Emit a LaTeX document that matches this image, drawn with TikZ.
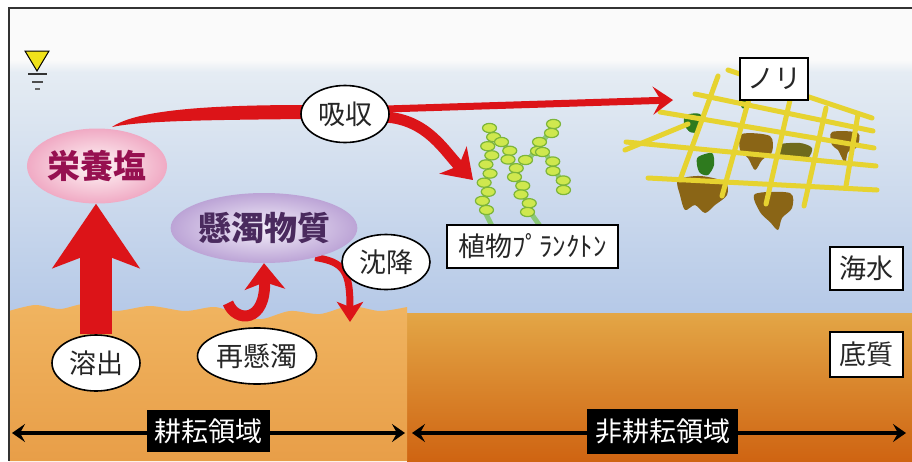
\documentclass[tikz,border=0pt]{standalone}
\usepackage{fontspec}
\setmainfont{Noto Sans CJK JP}
\usetikzlibrary{arrows.meta,shapes.geometric,calc}

\definecolor{sky}{HTML}{FAFAFA}
\definecolor{seatop}{HTML}{E5ECF3}
\definecolor{seabot}{HTML}{B4C8E7}
\definecolor{tillA}{HTML}{F0B460}
\definecolor{tillB}{HTML}{E89E48}
\definecolor{mudA}{HTML}{E3A646}
\definecolor{mudM}{HTML}{DA842A}
\definecolor{mudB}{HTML}{CF6412}
\definecolor{flowred}{HTML}{DC1418}
\definecolor{netyel}{HTML}{E6D330}
\definecolor{noriB}{HTML}{8A6516}
\definecolor{noriO}{HTML}{6F6A1C}
\definecolor{noriG}{HTML}{2E7A1E}
\definecolor{beadfill}{HTML}{CFE84E}
\definecolor{beadedge}{HTML}{7DB53A}
\definecolor{stalkgreen}{HTML}{8CC878}
\definecolor{nutink}{HTML}{961050}
\definecolor{ssink}{HTML}{4A2A5E}
\definecolor{marker}{HTML}{F0E21A}

\pgfdeclarelayer{back}
\pgfdeclarelayer{flow}
\pgfsetlayers{back,flow,main}

\tikzset{
  labeloval/.style={ellipse, draw=black, line width=1.6pt, fill=white, inner sep=0pt,
    text=black!85, font=\fontsize{27}{27}\selectfont},
  panel/.style={rectangle, draw=black, line width=2.6pt, fill=white, inner sep=0pt,
    text=black!85, font=\fontsize{27}{27}\selectfont},
  zone/.style={rectangle, fill=black, text=white, inner sep=0pt,
    font=\fontsize{27}{27}\selectfont},
  pool/.style={ellipse, inner sep=0pt, font=\bfseries\fontsize{33}{33}\selectfont},
  span/.style={line width=4pt, black,
    {Stealth[length=13pt,width=18pt,inset=5pt]}-{Stealth[length=13pt,width=18pt,inset=5pt]}},
  netline/.style={netyel, line width=5pt, line cap=round},
  bead/.style={fill=beadfill, draw=beadedge, line width=1.2pt},
  stalk/.style={stalkgreen, line width=5pt, line cap=round},
}

% a chain of beads between two named points
\newcommand\beadchain[3]{%
  \draw[stalk] (#1) -- (#2);
  \foreach \i in {0,...,#3}{
    \pgfmathsetmacro\tt{\i/#3}
    \pgfmathsetmacro\dx{mod(\i,2)==0 ? -2.5 : 2.5}
    \filldraw[bead] ($(#1)!\tt!(#2) + (\dx,0)$) ellipse [x radius=7, y radius=4.6];
  }}

\begin{document}
\begin{tikzpicture}[x=1pt,y=-1pt]
\useasboundingbox (0,0) rectangle (912,461);

% ---------- nodes ----------
\node[pool, minimum width=126pt, minimum height=75pt, inner color=white!60!pink!30, outer color={rgb,255:red,240;green,170;blue,196}, text=nutink] (nut) at (97,166) {栄養塩};
\node[pool, minimum width=165pt, minimum height=70pt, inner color={rgb,255:red,244;green,240;blue,250}, outer color={rgb,255:red,188;green,164;blue,214}, text=ssink] (ss) at (264,228) {懸濁物質};

\node[labeloval, minimum width=88pt, minimum height=57pt] (kyu) at (345,114) {吸収};
\node[labeloval, minimum width=88pt, minimum height=56pt] (yo) at (96,363) {溶出};
\node[labeloval, minimum width=119pt, minimum height=56pt] (resus) at (257,356) {再懸濁};
\node[labeloval, minimum width=88pt, minimum height=55pt] (sed) at (386,262) {沈降};

\node[panel, minimum width=171pt, minimum height=43pt] (plk) at (532.5,246.5) {植物ﾌﾟﾗﾝｸﾄﾝ};
\node[panel, minimum width=68pt, minimum height=42pt] (nori) at (774,79) {ノリ};
\node[panel, minimum width=73pt, minimum height=43pt] (sea) at (866.5,268.5) {海水};
\node[panel, minimum width=73pt, minimum height=45pt] (bed) at (866.5,354.5) {底質};

\node[zone, minimum width=123pt, minimum height=42pt] (tz) at (208.5,431) {耕耘領域};
\node[zone, minimum width=151pt, minimum height=45pt] (nz) at (662.5,431) {非耕耘領域};

% ---------- scenery ----------
\begin{pgfonlayer}{back}
  \fill[white] (0,0) rectangle (912,461);
  \fill[sky] (9,8) rectangle (912,66);
  \shade[top color=sky, bottom color=seatop] (9,60) rectangle (912,72);
  \shade[top color=seatop, bottom color=seabot] (9,72) rectangle (912,320);

  % untilled bed
  \shade[top color=mudA, middle color=mudM, bottom color=mudB] (407,313) rectangle (912,461);
  % tilled bed with its ragged surface
  \shade[top color=tillA, bottom color=tillB] (9,461) -- (9,311)
    -- plot[smooth] coordinates {(9,311) (35,305) (60,309) (85,304) (115,311) (150,306) (185,311)
      (215,307) (240,315) (262,319) (290,311) (320,314) (350,306) (380,311) (407,307)}
    -- (407,461) -- cycle;

  % frame
  \draw[line width=2pt, black!80] (9,461) -- (9,8) -- (912,8);

  % water level mark
  \filldraw[fill=marker, draw=black, line width=1pt] (25,51) -- (49,51) -- (37,71) -- cycle;
  \draw[line width=1.6pt, black!80] (28,74) -- (47,74);
  \draw[line width=1.6pt, black!70] (32,82) -- (43,82);
  \draw[line width=1.6pt, black!60] (35,89) -- (40,89);

  % laver on its net
  \fill[noriB] plot[smooth cycle] coordinates {(678,180) (700,176) (725,182) (727,195) (715,205) (705,213) (695,205) (685,210) (680,195)};
  \fill[noriB] plot[smooth cycle] coordinates {(755,194) (790,193) (792,208) (782,218) (778,230) (770,222) (760,212)};
  \fill[noriB] plot[smooth cycle] coordinates {(742,134) (770,136) (772,152) (762,160) (755,170) (748,158) (740,150)};
  \fill[noriB] plot[smooth cycle] coordinates {(832,132) (858,133) (857,147) (848,152) (845,163) (838,150) (832,145)};
  \fill[noriO] plot[smooth cycle] coordinates {(778,145) (800,143) (812,148) (808,158) (795,160) (782,158)};
  \fill[noriG] plot[smooth cycle] coordinates {(686,115) (700,114) (702,125) (698,132) (690,132) (684,124)};
  \fill[noriG] plot[smooth cycle] coordinates {(698,157) (712,153) (714,165) (708,175) (700,173) (697,165)};
  \fill[noriG] plot[smooth cycle] coordinates {(740,97) (750,97) (749,106) (742,108)};

  \draw[netline] (728,70) -- (872,118);
  \draw[netline] (695,94) -- (873,131);
  \draw[netline] (660,112) -- (874,148);
  \draw[netline] (626,142) -- (876,166);
  \draw[netline] (648,178) -- (877,190);
  \draw[netline] (625,150) -- (688,124);
  \draw[netline] (718,76) -- (680,180);
  \draw[netline] (752,88) -- (722,196);
  \draw[netline] (790,100) -- (766,204);
  \draw[netline] (826,108) -- (804,206);
  \draw[netline] (858,114) -- (846,186);

  % phytoplankton chains
  \coordinate (c1a) at (492,128); \coordinate (c1b) at (484,210);
  \coordinate (c2a) at (504,142); \coordinate (c2b) at (530,212);
  \coordinate (c3a) at (556,124); \coordinate (c3b) at (528,160);
  \coordinate (c4a) at (545,152); \coordinate (c4b) at (566,190);
  \draw[stalk] (c1b) -- (492,226);
  \draw[stalk] (c2b) -- (540,226);
  \beadchain{c1a}{c1b}{9}
  \beadchain{c2a}{c2b}{8}
  \beadchain{c3a}{c3b}{4}
  \beadchain{c4a}{c4b}{4}
\end{pgfonlayer}

% ---------- flows ----------
\coordinate (noriTip) at (673,100);
\coordinate (plkTip) at (473,180);
\coordinate (jtail) at (228,303);
\coordinate (settle) at (350,322);
\coordinate (tl) at (12,433); \coordinate (tr) at (405,433);
\coordinate (nl) at (412,433); \coordinate (nr) at (906,433);

\begin{pgfonlayer}{flow}
  % dissolution from the bed
  \draw[flowred, line width=32pt, -{Stealth[length=64pt,width=86pt,inset=16pt]}]
    (yo.north) -- (yo.north |- nut.south);
  % uptake: tapered stem from the nutrients into the uptake label
  \fill[flowred] (112,127) .. controls (135,111) and (200,105) .. (305,105)
    -- (305,119) .. controls (200,120) and (140,121) .. cycle;
  \draw[flowred, line width=7pt, -{Stealth[length=20pt,width=28pt,inset=8pt]}]
    ([xshift=-4pt,yshift=5pt]kyu.east) -- (noriTip);
  \draw[flowred, line width=11pt, -{Stealth[length=28pt,width=38pt,inset=8pt]}]
    ([xshift=-4pt,yshift=-3pt]kyu.east) .. controls (428,120) and (445,152) .. (plkTip);
  % resuspension and settling
  \draw[flowred, line width=11pt, -{Stealth[length=26pt,width=40pt,inset=7pt]}]
    (jtail) .. controls (236,323) and (266,323) .. (ss.south);
  \draw[flowred, line width=7pt, -{Stealth[length=20pt,width=26pt,inset=5pt]}]
    (ss.-30) .. controls (345,262) and (350,272) .. (settle);
  % zone extents
  \draw[span] (tl) -- (tr);
  \draw[span] (nl) -- (nr);
\end{pgfonlayer}
\end{tikzpicture}
\end{document}
